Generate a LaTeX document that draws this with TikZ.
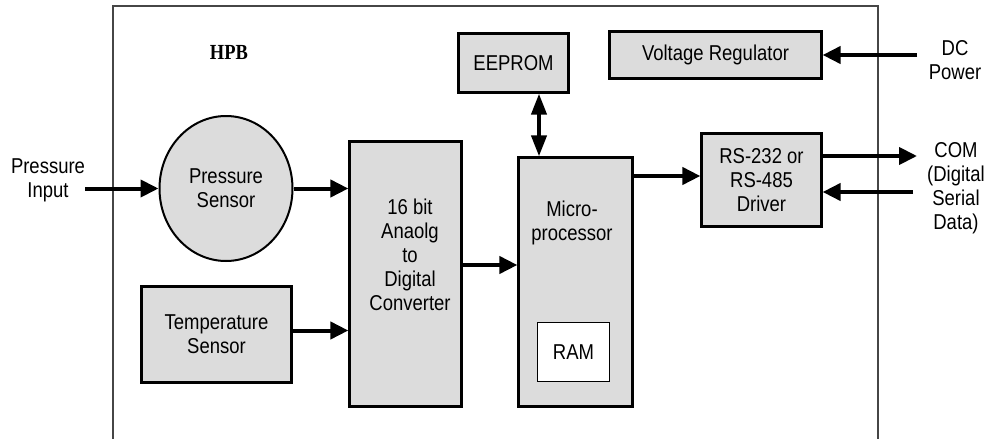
\documentclass[tikz,border=0pt]{standalone}
\usepackage{fontspec}
\setmainfont{Liberation Sans}[FakeStretch=0.86]
\newfontfamily\hpbfont{Liberation Serif}[FakeStretch=0.86]
\usetikzlibrary{arrows.meta,shapes.geometric}
\definecolor{boxgray}{RGB}{220,220,220}
\definecolor{framegray}{RGB}{70,70,70}
\tikzset{
  lbl/.style={font=\fontsize{21.5}{24}\selectfont, align=center, inner sep=0pt},
  blk/.style={lbl, rectangle, draw=black, line width=2.2pt, fill=boxgray},
  ramblk/.style={lbl, rectangle, draw=black, line width=1.3pt, fill=white},
  sensorell/.style={lbl, ellipse, draw=black, line width=2pt, fill=boxgray},
  hpbtitle/.style={font=\hpbfont\bfseries\fontsize{21.5}{24}\selectfont, inner sep=0pt},
  frameline/.style={draw=framegray, line width=1.4pt},
  arr/.style={line width=4pt, -{Triangle[length=18pt,width=17pt]}},
  darr/.style={line width=4pt, {Triangle[length=21pt,width=15pt]}-{Triangle[length=21pt,width=15pt]}}
}
\begin{document}
\begin{tikzpicture}[x=1pt,y=-1pt]
\useasboundingbox (0,0) rectangle (989,439);
\fill[white] (0,0) rectangle (989,439);

% outer board frame (open at the bottom edge of the picture)
\draw[frameline] (113,439) -- (113,6) -- (878,6) -- (878,439);
\node[hpbtitle] (hpb) at (229,52) {HPB};

% blocks
\node[blk, minimum width=110pt, minimum height=59pt] (eeprom) at (513.5,63) {EEPROM};
\node[blk, minimum width=212pt, minimum height=47pt] (vr) at (715.5,55) {Voltage Regulator};
\node[blk, minimum width=120pt, minimum height=93pt] (rs) at (761.5,180) {RS-232 or\\RS-485\\Driver};
\node[blk, minimum width=114pt, minimum height=249pt] (micro) at (575.5,282) {};
\node[lbl, anchor=north] (microtext) at (572,201) {Micro-\\processor};
\node[ramblk, minimum width=72pt, minimum height=59pt] (ram) at (573.5,352) {RAM};
\node[blk, minimum width=112pt, minimum height=265pt] (adc) at (405.5,274) {};
\node[lbl, anchor=north] (adctext) at (410,199) {16 bit\\Anaolg\\to\\Digital\\Converter};
\node[sensorell, minimum width=133pt, minimum height=145pt] (ps) at (226,188.5) {Pressure\\Sensor};
\node[blk, minimum width=150pt, minimum height=96pt] (temp) at (216.5,334.5) {Temperature\\Sensor};

% outside labels
\node[lbl, anchor=north] (pinlabel) at (48,159) {Pressure\\Input};
\node[lbl, anchor=north] (dclabel) at (955,40) {DC\\Power};
\node[lbl, anchor=north] (comlabel) at (956,142) {COM\\(Digital\\Serial\\Data)};

% free ends and offsets
\coordinate (pin) at (85,188.5);
\coordinate (dcin) at (917,55);
\coordinate (comout) at (917,156);
\coordinate (comin) at (913,192);
\coordinate (a1) at ([yshift=9pt]adc.east);
\coordinate (m1) at ([yshift=4pt]rs.west);
\coordinate (e1) at ([xshift=25.5pt]eeprom.south);
\coordinate (t1) at ([yshift=4pt]temp.east);

% connectors
\draw[arr] (pin) -- (pin -| ps.west);
\draw[arr] (ps.east) -- (ps.east -| adc.west);
\draw[arr] (t1) -- (t1 -| adc.west);
\draw[arr] (a1) -- (a1 -| micro.west);
\draw[arr] (m1 -| micro.east) -- (m1);
\draw[darr] (e1) -- (e1 |- micro.north);
\draw[arr] (dcin) -- (dcin -| vr.east);
\draw[arr] (comout -| rs.east) -- (comout);
\draw[arr] (comin) -- (comin -| rs.east);
\end{tikzpicture}
\end{document}
